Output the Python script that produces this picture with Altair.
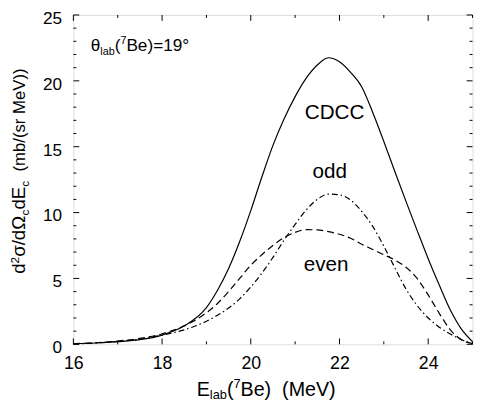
import altair as alt
import pandas as pd

# ---------------- data ----------------
energy = [16.0, 16.5, 17.0, 17.5, 18.0, 18.5, 19.0, 19.25, 19.5, 19.75, 20.0, 20.25,
          20.5, 20.75, 21.0, 21.25, 21.5, 21.75, 22.0, 22.25, 22.5, 22.75, 23.0, 23.25,
          23.5, 23.75, 24.0, 24.25, 24.5, 24.75, 25.0]
cdcc = [0.05, 0.1, 0.2, 0.35, 0.7, 1.4, 2.78, 4.1, 5.75, 7.8, 10.15, 12.7,
        15.1, 17.1, 18.8, 20.2, 21.2, 21.75, 21.45, 20.65, 19.55, 17.6, 15.4, 13.1,
        10.85, 8.65, 6.5, 4.5, 2.6, 1.15, 0.2]
even = [0.05, 0.12, 0.25, 0.45, 0.8, 1.4, 2.4, 3.1, 4.0, 5.0, 6.0, 6.8,
        7.5, 8.1, 8.5, 8.7, 8.68, 8.55, 8.35, 8.05, 7.6, 7.2, 6.8, 6.4,
        5.85, 5.0, 3.75, 2.35, 1.1, 0.35, 0.05]
odd = [0.03, 0.1, 0.22, 0.4, 0.7, 1.1, 1.75, 2.2, 2.75, 3.45, 4.35, 5.4,
       6.6, 7.9, 9.1, 10.2, 11.0, 11.4, 11.35, 10.95, 10.1, 8.95, 7.45, 5.8,
       4.2, 2.95, 2.0, 1.3, 0.78, 0.35, 0.05]

x_tick_labels = [16, 18, 20, 22, 24]
y_tick_labels = [0, 5, 10, 15, 20, 25]
x_tick_positions = list(range(16, 26))
y_tick_positions = list(range(0, 26))

curve_labels = ["CDCC", "odd", "even"]
curve_label_E = [21.89, 21.78, 21.70]
curve_label_v = [17.1, 12.6, 5.6]

angle_label_E = [16.39]
angle_label_v = [22.27]

# ---------------- layout / style ----------------
FONT = "Liberation Sans"
W, H = 406, 335
XD, YD = [16, 25], [0, 25]
PX_E = W / (XD[1] - XD[0])
PX_V = H / (YD[1] - YD[0])

xs = alt.Scale(domain=XD, nice=False, zero=False)
ys = alt.Scale(domain=YD, nice=False, zero=False)

EM = {'d': .556, 'E': .667, 'B': .667, 'e': .556, '(': .333, ')': .333, '/': .278,
      ' ': .278, 'm': .833, 'b': .556, 's': .5, 'r': .333, 'M': .833, 'V': .667,
      'l': .222, 'a': .556, 'c': .5, '=': .584, '°': .4, 'σ': .617, 'Ω': .768,
      'θ': .556}


def adv(text, size):
    return sum(EM.get(ch, .556) for ch in text) * size


one = pd.DataFrame({"k": [0]})

df = pd.DataFrame({"E": energy, "CDCC": cdcc, "even": even, "odd": odd})

x_axis = alt.Axis(values=x_tick_labels, title=None, ticks=False, tickSize=0, domain=False,
                  grid=False, labelFont=FONT, labelFontSize=18, labelColor="black",
                  labelPadding=11, labelFlush=False)
y_axis = alt.Axis(values=y_tick_labels, title=None, ticks=False, tickSize=0, domain=False,
                  grid=False, labelFont=FONT, labelFontSize=17.5, labelColor="black",
                  labelPadding=12, labelFlush=False, labelOffset=3.5)


def X(field):
    return alt.X(field, scale=xs, axis=x_axis, title=None)


def Y(field):
    return alt.Y(field, scale=ys, axis=y_axis, title=None)


solid = alt.Chart(df).mark_line(color="black", strokeWidth=1.2, interpolate="monotone").encode(
    x=X("E:Q"), y=Y("CDCC:Q"))
dashed = alt.Chart(df).mark_line(color="black", strokeWidth=1.2, strokeDash=[7, 4],
                                 interpolate="monotone").encode(x=X("E:Q"), y=Y("even:Q"))
dashdot = alt.Chart(df).mark_line(color="black", strokeWidth=1.2, strokeDash=[6, 3, 1.5, 3],
                                  interpolate="monotone").encode(x=X("E:Q"), y=Y("odd:Q"))

# inward ticks on all four sides
xt = pd.DataFrame({"E": x_tick_positions})
xt["len"] = [(6 if e % 2 == 0 else 3) / PX_V for e in x_tick_positions]
xt["b0"] = YD[0]
xt["b1"] = YD[0] + xt["len"]
xt["t0"] = YD[1] - xt["len"]
xt["t1"] = YD[1]
yt = pd.DataFrame({"v": y_tick_positions})
yt["len"] = [(6 if v % 5 == 0 else 3) / PX_E for v in y_tick_positions]
yt["l0"] = XD[0]
yt["l1"] = XD[0] + yt["len"]
yt["r0"] = XD[1] - yt["len"]
yt["r1"] = XD[1]

tick_layers = []
for a, b in [("b0", "b1"), ("t0", "t1")]:
    tick_layers.append(alt.Chart(xt).mark_rule(color="black", strokeWidth=1).encode(
        x=X("E:Q"), y=Y(f"{a}:Q"), y2=f"{b}:Q"))
for a, b in [("l0", "l1"), ("r0", "r1")]:
    tick_layers.append(alt.Chart(yt).mark_rule(color="black", strokeWidth=1).encode(
        y=Y("v:Q"), x=X(f"{a}:Q"), x2=f"{b}:Q"))

lab_df = pd.DataFrame({"label": curve_labels, "E": curve_label_E, "v": curve_label_v})
curve_text = alt.Chart(lab_df).mark_text(font=FONT, fontSize=21, align="center",
                                         baseline="alphabetic", color="black").encode(
    x=X("E:Q"), y=Y("v:Q"), text="label:N")

# theta annotation, pieces with sub/superscripts anchored in data coordinates
ang_df = pd.DataFrame({"E": angle_label_E, "v": angle_label_v})
theta_pieces = [("θ", 17.5, 0), ("lab", 11, 4), ("(", 17.5, 0), ("7", 11, -7),
                ("Be)=19°", 17.5, 0)]
text_layers = []
cum = 0.0
for t, fs, sh in theta_pieces:
    text_layers.append(alt.Chart(ang_df).mark_text(
        font=FONT, fontSize=fs, align="left", baseline="alphabetic", color="black",
        dx=cum, dy=sh, text=t).encode(x=X("E:Q"), y=Y("v:Q")))
    cum += adv(t, fs)

# x-axis title
xt_pieces = [("E", 20, 0), ("lab", 13, 3), ("(", 20, 0), ("7", 13, -9), ("Be)", 20, 0),
             ("  ", 20, 0), ("(MeV)", 20, 0)]
x0, yb = 125.5, 388
cum = 0.0
for t, fs, sh in xt_pieces:
    if t.strip():
        text_layers.append(alt.Chart(one).mark_text(
            font=FONT, fontSize=fs, align="left", baseline="alphabetic", color="black",
            text=t).encode(x=alt.value(x0 + cum), y=alt.value(yb + sh)))
    cum += adv(t, fs)

# y-axis title (rotated)
yt_pieces = [("d", 19, 0), ("2", 12, -6), ("σ/dΩ", 19, 0), ("c", 12, 4), ("dE", 19, 0),
             ("c", 12, 4), ("  ", 17, 0), ("(mb/(sr MeV))", 17, 0)]
xb, y0 = -49.5, 263.3
cum = 0.0
for t, fs, sh in yt_pieces:
    if t.strip():
        text_layers.append(alt.Chart(one).mark_text(
            font=FONT, fontSize=fs, align="left", baseline="alphabetic", color="black",
            angle=270, text=t).encode(x=alt.value(xb + sh), y=alt.value(y0 - cum)))
    cum += adv(t, fs)

chart = alt.layer(solid, dashed, dashdot, *tick_layers, curve_text, *text_layers).properties(
    width=W, height=H,
    padding={"left": 66.5, "top": 3.7, "right": 1.5, "bottom": 56},
    autosize=alt.AutoSizeParams(type="none"),
).configure_view(stroke="black", strokeWidth=1.5).configure(background="white")

chart.save("out.html", embed_options={"renderer": "svg", "actions": False})
